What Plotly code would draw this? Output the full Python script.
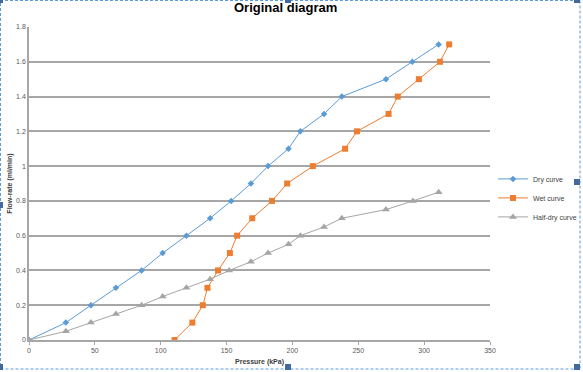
import plotly.graph_objects as go

# Data
dry_x = [0, 28, 47, 66, 85.5, 101.5, 119.5, 137.5, 153.5, 168.5, 181.5, 197, 206, 224, 237.5, 271, 291, 311]
dry_y = [0, 0.1, 0.2, 0.3, 0.4, 0.5, 0.6, 0.7, 0.8, 0.9, 1.0, 1.1, 1.2, 1.3, 1.4, 1.5, 1.6, 1.7]

wet_x = [110.5, 124, 132, 135.5, 143.5, 152.5, 158, 169.5, 184.5, 196, 215.5, 240, 249, 273, 280, 296, 312, 319]
wet_y = [0, 0.1, 0.2, 0.3, 0.4, 0.5, 0.6, 0.7, 0.8, 0.9, 1.0, 1.1, 1.2, 1.3, 1.4, 1.5, 1.6, 1.7]

half_x = [0, 28, 47, 66, 85.5, 101.5, 119.5, 137.5, 152, 168.5, 181.5, 197, 206, 224, 237.5, 271, 291.5, 311]
half_y = [0, 0.05, 0.1, 0.15, 0.2, 0.25, 0.3, 0.35, 0.4, 0.45, 0.5, 0.55, 0.6, 0.65, 0.7, 0.75, 0.8, 0.85]

FONT = "Liberation Sans"
W, H = 583, 372
ML, MR, MT, MB = 29, 93, 27, 32
PW, PH = W - ML - MR, H - MT - MB


def px(x):
    return (x - ML) / PW


def py(y):
    return (H - MB - y) / PH


fig = go.Figure()
fig.add_trace(go.Scatter(x=dry_x, y=dry_y, mode="lines+markers", name="Dry curve",
                         line=dict(color="#5b9bd5", width=1),
                         marker=dict(symbol="diamond", size=5, color="#5b9bd5")))
fig.add_trace(go.Scatter(x=wet_x, y=wet_y, mode="lines+markers", name="Wet curve",
                         line=dict(color="#ed7d31", width=1),
                         marker=dict(symbol="square", size=6, color="#ed7d31")))
fig.add_trace(go.Scatter(x=half_x, y=half_y, mode="lines+markers", name="Half-dry curve",
                         line=dict(color="#a5a5a5", width=1),
                         marker=dict(symbol="triangle-up", size=7, color="#a5a5a5")))

fig.update_layout(
    width=W, height=H,
    margin=dict(l=ML, r=MR, t=MT, b=MB, autoexpand=False),
    paper_bgcolor="white", plot_bgcolor="white",
    font=dict(family=FONT, color="#595959", size=7),
    title=dict(text="<b>Original diagram</b>", x=0.49, xanchor="center", y=0.993, yanchor="top",
               font=dict(family=FONT, size=13, color="black")),
    showlegend=True,
    legend=dict(x=px(493), y=0.454, xanchor="left", yanchor="middle", font=dict(size=7, color="#404040"),
                bgcolor="rgba(0,0,0,0)", tracegroupgap=0, itemwidth=30),
    xaxis=dict(range=[0, 350], dtick=50, showgrid=False, zeroline=False, automargin=False,
               showline=True, linecolor="#a6a6a6", linewidth=1.5,
               ticks="outside", tickcolor="#a6a6a6", ticklen=3,
               tickfont=dict(size=7, color="#595959"),
               title=dict(text="<b>Pressure (kPa)</b>", font=dict(size=7, color="#404040"), standoff=6)),
    yaxis=dict(range=[0, 1.8], dtick=0.2, showgrid=True, gridcolor="#a6a6a6", gridwidth=1.5,
               zeroline=False, showline=True, linecolor="#a6a6a6", linewidth=1.5, automargin=False,
               ticks="", tickfont=dict(size=7, color="#595959"),
               title=dict(text="<b>Flow-rate (ml/min)</b>", font=dict(size=7, color="#404040"), standoff=3)),
)

# dashed selection frame around the chart
fig.add_shape(type="rect", xref="paper", yref="paper",
              x0=px(0.5), x1=px(580), y0=py(369), y1=py(0.5),
              line=dict(color="#5b9be0", width=1, dash="3px,2px"), layer="above")
# selection handles
for hx, hy in [(0, 367), (288, 367), (577, 367), (577, 182), (577, 0), (288, 0), (0, 0), (0, 205)]:
    fig.add_shape(type="rect", xref="paper", yref="paper",
                  x0=px(hx - 3), x1=px(hx + 3), y0=py(hy + 3), y1=py(hy - 3),
                  line=dict(width=0), fillcolor="#44699e", layer="above")

fig.write_html("out.html", config={"displayModeBar": False},
               post_script="document.body.style.margin='0';document.body.style.overflow='hidden';")
